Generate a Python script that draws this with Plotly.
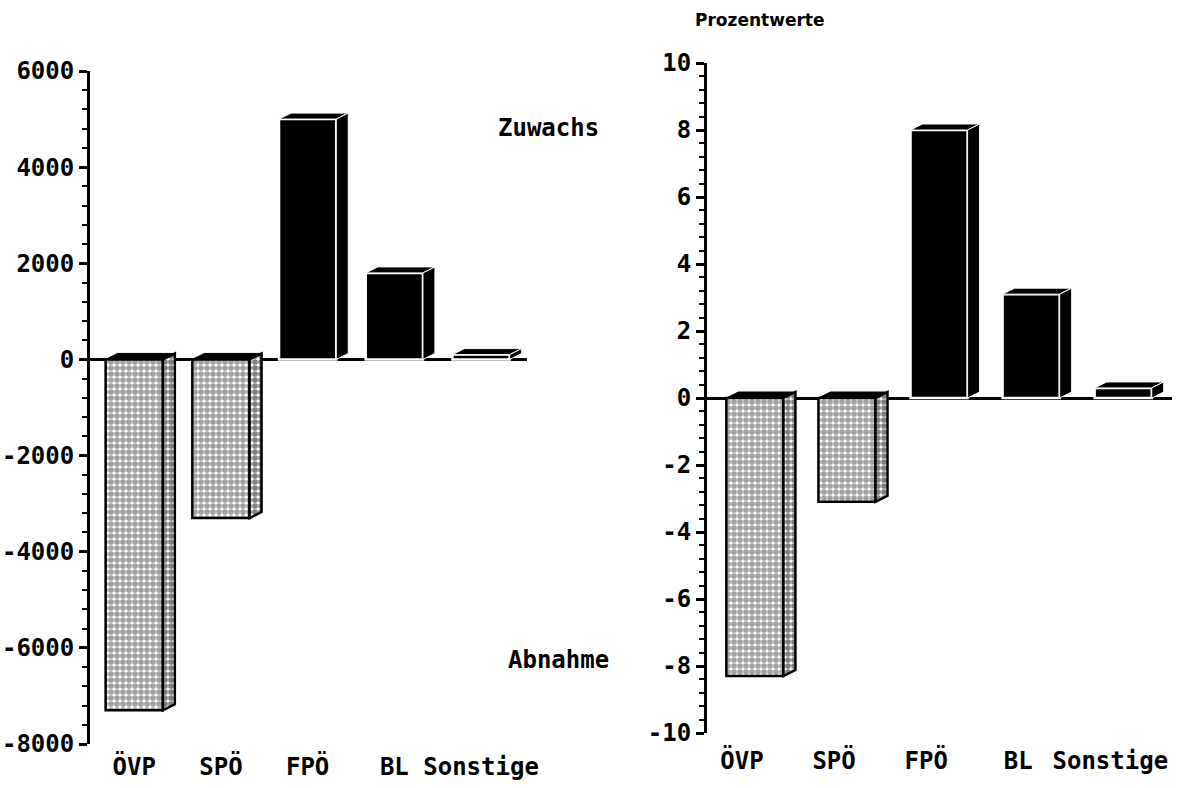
import plotly.graph_objects as go

categories = ["ÖVP", "SPÖ", "FPÖ", "BL", "Sonstige"]
abs_values = [-7300, -3300, 5000, 1800, 100]
pct_values = [-8.3, -3.1, 8.0, 3.1, 0.3]
abs_ticks = [-8000, -6000, -4000, -2000, 0, 2000, 4000, 6000]
pct_ticks = [-10, -8, -6, -4, -2, 0, 2, 4, 6, 8, 10]
pct_tick_text = ["-10", "-8", "-6", "-4", "-2", "0", "2", "4", "6", "8", "10"]

W, H = 1180, 788
FONT = "DejaVu Sans Mono, monospace"
DEPTH_X_PX, DEPTH_Y_PX = 12, 6

panels = [
    dict(values=abs_values, ticks=abs_ticks, ticktext=[str(t) for t in abs_ticks], minor=400,
         xr=[-0.51, 4.53], yr=[-8000, 6000], xd=[90 / W, 527 / W], yd=[1 - 744 / H, 1 - 71 / H],
         xa="x", ya="y", bw=0.66, standoff=6, label_shift=0.0),
    dict(values=pct_values, ticks=pct_ticks, ticktext=pct_tick_text, minor=0.4,
         xr=[-0.52, 4.53], yr=[-10, 10], xd=[707 / W, 1172 / W], yd=[1 - 733 / H, 1 - 63 / H],
         xa="x2", ya="y2", bw=0.62, standoff=11, label_shift=-0.14),
]

pattern = dict(shape=".", fgcolor="black", bgcolor="white", size=6, solidity=0.7)

fig = go.Figure()
for p in panels:
    vals = p["values"]
    pos = list(range(len(categories)))
    wpx = (p["xd"][1] - p["xd"][0]) * W
    hpx = (p["yd"][1] - p["yd"][0]) * H
    dx = DEPTH_X_PX * (p["xr"][1] - p["xr"][0]) / wpx
    dy = DEPTH_Y_PX * (p["yr"][1] - p["yr"][0]) / hpx
    bw = p["bw"]
    neg = [v < 0 for v in vals]
    fig.add_trace(go.Bar(
        x=pos, y=vals, width=bw, xaxis=p["xa"], yaxis=p["ya"],
        marker=dict(color=["white" if n else "black" for n in neg],
                    line=dict(color=["black" if n else "white" for n in neg], width=2.5),
                    pattern=dict(shape=["." if n else "" for n in neg], fgcolor="black",
                                 size=6, solidity=0.7, fillmode="overlay")),
        hoverinfo="skip"))
    for i, v in enumerate(vals):
        xl, xrr = i - bw / 2, i + bw / 2
        top, bot = max(v, 0), min(v, 0)
        # top face
        fig.add_trace(go.Scatter(
            x=[xl, xl + dx, xrr + dx, xrr, xl], y=[top, top + dy, top + dy, top, top],
            mode="lines", fill="toself", fillcolor="black",
            line=dict(color="black" if neg[i] else "white", width=1),
            xaxis=p["xa"], yaxis=p["ya"], hoverinfo="skip"))
        # side face
        side = dict(x=[xrr, xrr + dx, xrr + dx, xrr, xrr], y=[top, top + dy, bot + dy, bot, top],
                    mode="lines", fill="toself", xaxis=p["xa"], yaxis=p["ya"], hoverinfo="skip")
        if neg[i]:
            fig.add_trace(go.Scatter(**side, fillcolor="white", fillpattern=pattern,
                                     line=dict(color="black", width=2.5)))
        else:
            fig.add_trace(go.Scatter(**side, fillcolor="black", line=dict(color="white", width=1)))

tickfont = dict(family=FONT, size=24, color="black", weight="bold")
for k, p in enumerate(panels):
    sfx = "" if k == 0 else "2"
    fig.update_layout(**{
        "xaxis" + sfx: dict(domain=p["xd"], range=p["xr"], anchor=p["ya"],
                            tickvals=[i + p["label_shift"] for i in range(len(categories))],
                            ticktext=categories, showline=False, showgrid=False, zeroline=False, ticks="",
                            tickfont=tickfont, tickangle=0, ticklabelstandoff=p["standoff"],
                            ticklabeloverflow="allow", automargin=False, fixedrange=True),
        "yaxis" + sfx: dict(domain=p["yd"], range=p["yr"], anchor=p["xa"], tickvals=p["ticks"],
                            ticktext=p["ticktext"], showline=True, linewidth=3, linecolor="black",
                            ticks="outside", ticklen=8, tickwidth=3, tickcolor="black",
                            showgrid=False, zeroline=True, zerolinewidth=3, zerolinecolor="black",
                            tickfont=tickfont, ticklabelstandoff=0, automargin=False,
                            minor=dict(dtick=p["minor"], tick0=0, ticks="outside", ticklen=5, tickwidth=2,
                                       tickcolor="black", showgrid=False), fixedrange=True),
    })

ann = dict(xref="paper", yref="paper", showarrow=False, xanchor="center", yanchor="middle")
fig.add_annotation(text="Zuwachs", x=548 / W, y=1 - 128 / H,
                   font=dict(family=FONT, size=24, color="black", weight="bold"), **ann)
fig.add_annotation(text="Abnahme", x=558 / W, y=1 - 660 / H,
                   font=dict(family=FONT, size=24, color="black", weight="bold"), **ann)
fig.add_annotation(text="Prozentwerte", x=759 / W, y=1 - 20 / H,
                   font=dict(family="DejaVu Sans", size=17, color="black", weight="bold"), **ann)

fig.update_layout(width=W, height=H, margin=dict(l=0, r=0, t=0, b=0, autoexpand=False), showlegend=False,
                  plot_bgcolor="white", paper_bgcolor="white", barmode="overlay")
fig.write_html("out.html", include_plotlyjs=True, config={"displayModeBar": False})
